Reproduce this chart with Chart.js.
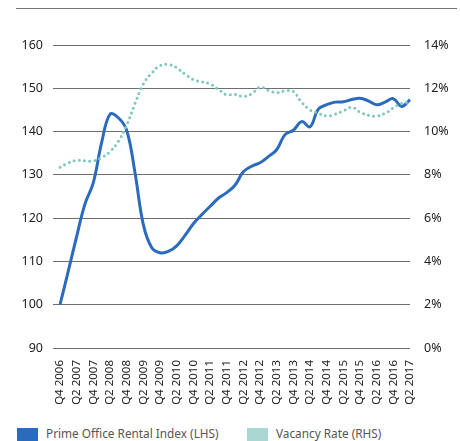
<!DOCTYPE html>
<html>
<head>
<meta charset="utf-8">
<script src="https://cdn.jsdelivr.net/npm/chart.js@4.4.1/dist/chart.umd.min.js"></script>
<style>
  body { margin: 0; background: #fff; }
  #wrap { position: relative; width: 460px; height: 441px; overflow: hidden; font-family: "Noto Sans", sans-serif; }
  #topline { position: absolute; left: 16px; top: 8px; width: 441px; height: 0; border-top: 1px solid #777; }
  #c { position: absolute; left: 0; top: 0; }
  .box { position: absolute; top: 428px; width: 21px; height: 14px; }
  .lbl { position: absolute; top: 425px; font-size: 11.8px; line-height: 16px; color: #555; white-space: nowrap; }
</style>
</head>
<body>
<div id="wrap">
  <div id="topline"></div>
  <canvas id="c" width="460" height="420"></canvas>
  <div class="box" style="left:17px;background:#2a6bbd"></div>
  <div class="lbl" style="left:46px">Prime Office Rental Index (LHS)</div>
  <div class="box" style="left:247px;background:#a9d8d3"></div>
  <div class="lbl" style="left:276px">Vacancy Rate (RHS)</div>
</div>
<script>
// quarterly, Q4 2006 .. Q2 2017
const quarters = [
  "Q4 2006",
  "Q1 2007", "Q2 2007", "Q3 2007", "Q4 2007",
  "Q1 2008", "Q2 2008", "Q3 2008", "Q4 2008",
  "Q1 2009", "Q2 2009", "Q3 2009", "Q4 2009",
  "Q1 2010", "Q2 2010", "Q3 2010", "Q4 2010",
  "Q1 2011", "Q2 2011", "Q3 2011", "Q4 2011",
  "Q1 2012", "Q2 2012", "Q3 2012", "Q4 2012",
  "Q1 2013", "Q2 2013", "Q3 2013", "Q4 2013",
  "Q1 2014", "Q2 2014", "Q3 2014", "Q4 2014",
  "Q1 2015", "Q2 2015", "Q3 2015", "Q4 2015",
  "Q1 2016", "Q2 2016", "Q3 2016", "Q4 2016",
  "Q1 2017", "Q2 2017"
];

const rentalIndex = [
  100, 107.8, 115.8, 123.3, 128.2, 137.5, 144, 143.2, 140.3, 130.5,
  118.5, 113.2, 112, 112.3, 113.6, 116, 118.7, 120.8, 122.7, 124.6,
  125.9, 127.6, 130.7, 132, 132.8, 134.2, 135.8, 139.3, 140.3, 142.3,
  141.1, 145.2, 146.2, 146.8, 146.9, 147.4, 147.7, 147.1, 146.2, 146.8,
  147.6, 145.8, 147.4
];

const vacancyRate = [
  8.35, 8.55, 8.67, 8.65, 8.64, 8.8, 9.07, 9.55, 10.3, 11.3,
  12.2, 12.7, 13.05, 13.1, 12.95, 12.65, 12.4, 12.3, 12.2, 11.95,
  11.7, 11.72, 11.62, 11.75, 12.05, 11.9, 11.8, 11.88, 11.85, 11.35,
  11.0, 10.85, 10.72, 10.8, 10.95, 11.12, 10.9, 10.75, 10.72, 10.84,
  11.1, 11.3, 11.35
];

const leftTicks = [90, 100, 110, 120, 130, 140, 150, 160];
const rightTicks = [0, 2, 4, 6, 8, 10, 12, 14];

const tickFont = { family: "Noto Sans", size: 12.5 };

new Chart(document.getElementById("c"), {
  type: "line",
  data: {
    labels: quarters,
    datasets: [
      {
        label: "Vacancy Rate (RHS)",
        data: vacancyRate,
        yAxisID: "y1",
        borderColor: "#7fc6bd",
        borderWidth: 3,
        borderDash: [0, 5.2],
        borderCapStyle: "round",
        pointRadius: 0,
        tension: 0.4,
        order: 0
      },
      {
        label: "Prime Office Rental Index (LHS)",
        data: rentalIndex,
        yAxisID: "y",
        borderColor: "#2a6bbd",
        borderWidth: 3,
        pointRadius: 0,
        tension: 0.4,
        order: 1
      }
    ]
  },
  options: {
    responsive: false,
    animation: false,
    layout: { padding: { top: 45, left: 0, right: 0, bottom: 0 } },
    plugins: { legend: { display: false }, tooltip: { enabled: false } },
    scales: {
      x: {
        grid: { display: false, drawTicks: false },
        border: { display: false },
        ticks: {
          autoSkip: false,
          maxRotation: 90,
          minRotation: 90,
          padding: 12,
          color: "#222",
          font: { family: "Noto Sans", size: 11.5 },
          callback: function (v, i) { return i % 2 === 0 ? quarters[i] : ""; }
        },
        afterFit: function (s) { s.height = 72; }
      },
      y: {
        position: "left",
        min: leftTicks[0],
        max: leftTicks[leftTicks.length - 1],
        afterBuildTicks: function (s) { s.ticks = leftTicks.map(v => ({ value: v })); },
        grid: { color: "#6e6e6e", lineWidth: 1, tickLength: 7 },
        border: { display: false },
        ticks: { padding: 10, color: "#222", font: tickFont },
        afterFit: function (s) { s.width = 60; }
      },
      y1: {
        position: "right",
        min: rightTicks[0],
        max: rightTicks[rightTicks.length - 1],
        afterBuildTicks: function (s) { s.ticks = rightTicks.map(v => ({ value: v })); },
        grid: { display: false, drawTicks: false },
        border: { display: false },
        ticks: {
          padding: 14,
          color: "#222",
          font: tickFont,
          callback: function (v) { return v + "%"; }
        },
        afterFit: function (s) { s.width = 50; }
      }
    }
  }
});
</script>
</body>
</html>
